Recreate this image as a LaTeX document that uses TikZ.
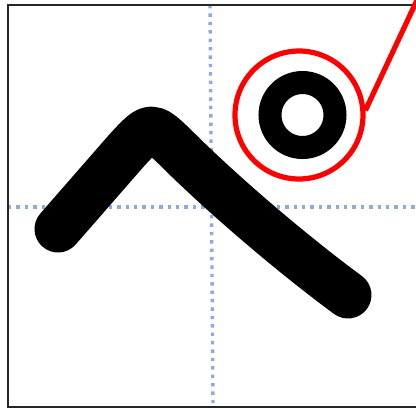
\documentclass[tikz,border=0pt]{standalone}
\definecolor{guideblue}{RGB}{140,170,220}
\begin{document}
\begin{tikzpicture}[x=1pt, y=-1pt,
  guide/.style={guideblue, line width=3.4pt, dash pattern=on 3.4pt off 5pt},
  glyph/.style={line width=47pt, line cap=round, line join=round},
  hilite/.style={red, line width=5.2pt}]
  % page size, and cut what runs over it
  \useasboundingbox (0,0) rectangle (416,408);
  \clip (0,0) rectangle (416,408);

  % dotted centre lines
  \draw[guide] (8,207) -- (416,207);
  \draw[guide] (210,5) -- (213,407);

  % frame
  \draw[line width=2.2pt, black!85] (8,5) rectangle (430,406.8);

  % the stroke
  \draw[glyph] (58,229) -- (127,150) .. controls (151,124) .. (175,147)
    .. controls (224,196) and (295,256) .. (348,295);

  % ring, and the red circle round it
  \node[circle, draw, line width=23pt, minimum size=65pt, inner sep=0pt] (ring) at (302.5,115) {};
  \node[circle, draw, hilite, minimum size=128pt, inner sep=0pt] (loupe) at (299,115) {};
  \coordinate (tip) at (418,-2);
  \draw[hilite] (loupe.4) -- (tip);
\end{tikzpicture}
\end{document}
